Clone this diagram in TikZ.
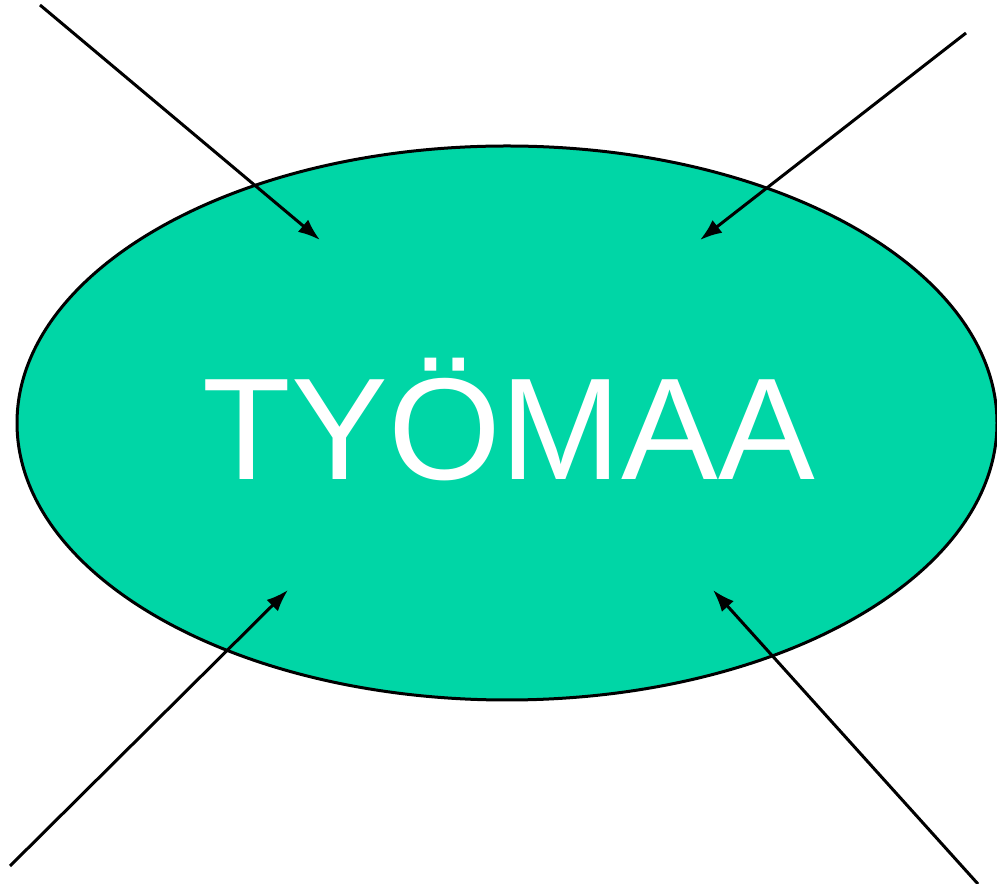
\documentclass[tikz,border=0pt]{standalone}
\usepackage{fontspec}
\setmainfont{Liberation Sans}
\usetikzlibrary{arrows.meta,shapes.geometric}
\definecolor{siteGreen}{RGB}{0,214,166}

\begin{document}
\begin{tikzpicture}[x=1pt,y=1pt,
  link/.style={-{Latex[length=22pt,width=16pt]},line width=3pt},
  site node/.style={ellipse,draw=black,fill=siteGreen,line width=3pt,minimum width=980pt,minimum height=554pt,inner sep=0pt},
  site text/.style={text=white,font=\fontsize{145}{145}\selectfont,inner sep=0pt,anchor=base}]
  \useasboundingbox (0,0) rectangle (997,884);

  \node[site node] (site) at (507,461) {};
  \node[site text] (label) at (509,404) {TYÖMAA};

  \coordinate (nw) at (40,879);
  \coordinate (ne) at (966,851);
  \coordinate (sw) at (10,18);
  \coordinate (se) at (978,0);
  \coordinate (nwend) at (320,644);
  \coordinate (neend) at (700,644);
  \coordinate (swend) at (288,294);
  \coordinate (seend) at (713,294);

  \draw[link] (nw) -- (nwend);
  \draw[link] (ne) -- (neend);
  \draw[link] (sw) -- (swend);
  \draw[link] (se) -- (seend);
\end{tikzpicture}
\end{document}
